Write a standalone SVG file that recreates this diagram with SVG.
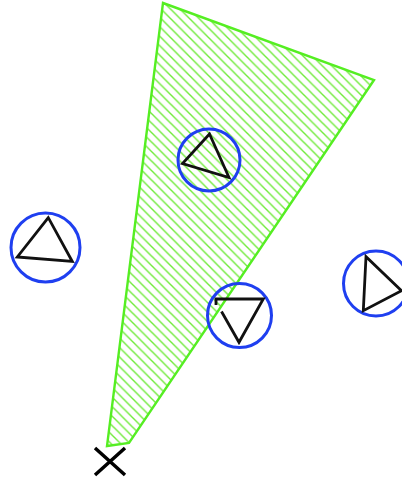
<svg xmlns="http://www.w3.org/2000/svg" width="402" height="481" viewBox="0 0 402 481">
<style>
.ring{fill:none;stroke:#1f3ff0;stroke-width:3}
.tri{fill:none;stroke:#111;stroke-width:2.8;stroke-linejoin:miter}
.zone{fill:url(#hatch);stroke:#55ee22;stroke-width:2.4;stroke-linejoin:miter}
.xm{stroke:#000;stroke-width:3.5}
</style>
<defs>
<pattern id="hatch" patternUnits="userSpaceOnUse" width="9.5" height="9.5">
<path d="M-1,-1 L10.5,10.5 M-10.5,-1 L1,10.5 M8.5,-1 L20,10.5" stroke="#70ea3a" stroke-width="1.4"/>
</pattern>
</defs>
<g id="zone">
<polygon class="zone" points="163,3 374,80 129,443 107,446"/>
</g>
<g id="node1">
<circle class="ring" cx="209" cy="160" r="31"/>
<polygon class="tri" points="209.5,134 182.5,163.5 229,177.5"/>
</g>
<g id="node2">
<circle class="ring" cx="45.5" cy="247.5" r="34.5"/>
<polygon class="tri" points="48.3,217.7 17.3,257 72.3,261.5"/>
</g>
<g id="node3">
<circle class="ring" cx="376" cy="283.5" r="32.5"/>
<polygon class="tri" points="366,256.7 363.3,310.7 401.5,290.7"/>
</g>
<g id="node4">
<circle class="ring" cx="239.5" cy="315.5" r="32"/>
<path class="tri" d="M221.5,311.5 L239,342.3 L263.3,299 L216,299 L216,305"/>
</g>
<g id="connectors"></g>
<g id="xmark">
<path class="xm" d="M95,448 L125,475 M95,475 L125,448"/>
</g>
</svg>
